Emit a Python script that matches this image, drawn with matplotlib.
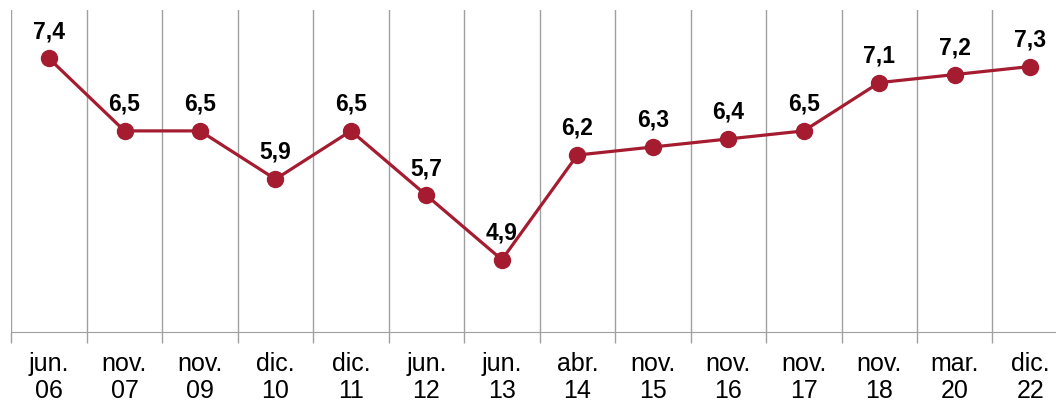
import matplotlib
matplotlib.use('Agg')
from matplotlib import pyplot as plt
import numpy as np

periodos = ['jun.\n06', 'nov.\n07', 'nov.\n09', 'dic.\n10', 'dic.\n11', 'jun.\n12', 'jun.\n13',
            'abr.\n14', 'nov.\n15', 'nov.\n16', 'nov.\n17', 'nov.\n18', 'mar.\n20', 'dic.\n22']
valores = [7.4, 6.5, 6.5, 5.9, 6.5, 5.7, 4.9, 6.2, 6.3, 6.4, 6.5, 7.1, 7.2, 7.3]

plt.rcParams['font.family'] = ['Liberation Sans', 'DejaVu Sans']
rojo = '#A51C30'

fig = plt.figure(figsize=(10.56, 4.07), dpi=100)
ax = fig.add_axes([0.0107, 0.184, 1.0006, 0.791])

x = np.arange(len(valores))
ax.plot(x, valores, color=rojo, lw=2.3, marker='o', ms=11.5, zorder=3, clip_on=False)

# etiquetas de datos
for xi, v in zip(x, valores):
    ax.annotate(f'{v:.1f}'.replace('.', ','), (xi, v), xytext=(0, 11), textcoords='offset points',
                ha='center', va='bottom', fontsize=16.5, fontweight='bold')

ax.set_xlim(-0.5, len(valores) - 0.5)
ax.set_ylim(4, 8)
ax.set_xticks(x)
ax.set_xticklabels(periodos, fontsize=18, linespacing=1.2)
ax.tick_params(axis='x', which='major', length=0, pad=14)
ax.set_xticks(np.arange(-0.5, len(valores), 1), minor=True)
ax.tick_params(axis='x', which='minor', length=8, color='#a0a0a0', width=1)
ax.grid(axis='x', which='minor', color='#a0a0a0', lw=1)
ax.set_yticks([])
for s in ['top', 'right', 'left']:
    ax.spines[s].set_visible(False)
ax.spines['bottom'].set_color('#a0a0a0')

fig.savefig('out.png', dpi=100)
